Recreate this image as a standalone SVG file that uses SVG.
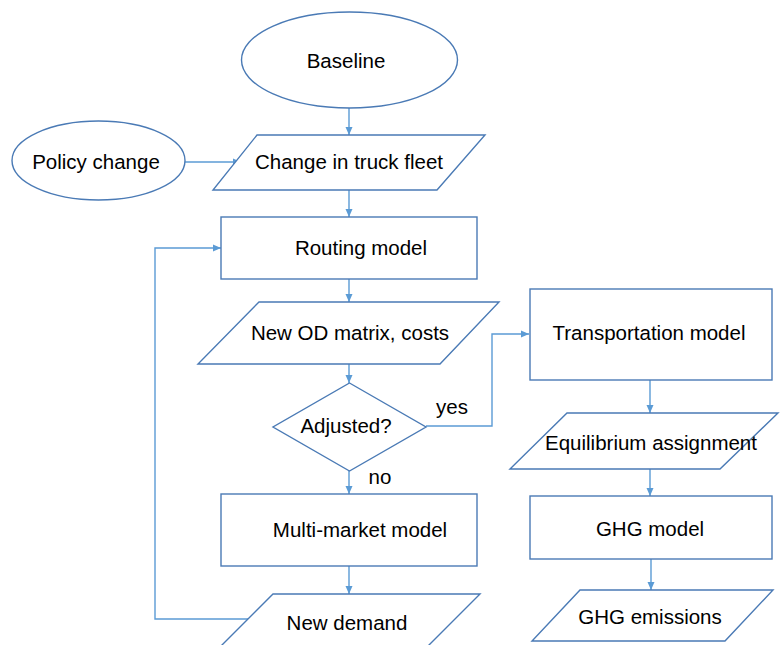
<svg xmlns="http://www.w3.org/2000/svg" width="780" height="645" viewBox="0 0 780 645">
<defs>
<style>
.s{fill:#fff;stroke:#4a7ab5;stroke-width:1.4}
.c{fill:none;stroke:#5b9bd5;stroke-width:1.4}
text{font-family:"Liberation Sans",Arial,sans-serif;font-size:20.5px;fill:#000;text-anchor:middle}
</style>
<marker id="ah" markerWidth="8" markerHeight="8" viewBox="0 0 8 8" refX="8" refY="4" orient="auto" markerUnits="userSpaceOnUse">
<path d="M0,0.5 L8,4 L0,7.5 z" fill="#5b9bd5"/>
</marker>
</defs>
<rect width="780" height="645" fill="#fff"/>
<g id="connectors">
<path class="c" d="M349,108 V135" marker-end="url(#ah)"/>
<path class="c" d="M185,162 H241" marker-end="url(#ah)"/>
<path class="c" d="M349,190 V217" marker-end="url(#ah)"/>
<path class="c" d="M349,279 V302" marker-end="url(#ah)"/>
<path class="c" d="M349,364 V383" marker-end="url(#ah)"/>
<path class="c" d="M426,426 H492 V334 H529" marker-end="url(#ah)"/>
<path class="c" d="M349,471 V494" marker-end="url(#ah)"/>
<path class="c" d="M349,566 V594" marker-end="url(#ah)"/>
<path class="c" d="M248,619 H155 V248 H221" marker-end="url(#ah)"/>
<path class="c" d="M650,380 V413" marker-end="url(#ah)"/>
<path class="c" d="M650,469 V496" marker-end="url(#ah)"/>
<path class="c" d="M651,559 V590" marker-end="url(#ah)"/>
</g>
<g id="baseline">
<ellipse class="s" cx="349.5" cy="60" rx="108" ry="48"/>
<text x="346" y="68">Baseline</text>
</g>
<g id="policy">
<ellipse class="s" cx="98.5" cy="160.5" rx="86.5" ry="39.5"/>
<text x="96" y="169">Policy change</text>
</g>
<g id="fleet">
<polygon class="s" points="257,135 485,135 437,190 213,190"/>
<text x="349" y="169">Change in truck fleet</text>
</g>
<g id="routing">
<rect class="s" x="221" y="217" width="256" height="62"/>
<text x="361" y="255">Routing model</text>
</g>
<g id="odmatrix">
<polygon class="s" points="259,302 499,302 440,364 198,364"/>
<text x="350" y="340">New OD matrix, costs</text>
</g>
<g id="adjusted">
<polygon class="s" points="349.5,383 426,427 349.5,471 273,427"/>
<text x="346" y="433">Adjusted?</text>
</g>
<g id="labels">
<text x="452" y="414">yes</text>
<text x="380" y="484">no</text>
</g>
<g id="multimarket">
<rect class="s" x="221" y="494" width="256" height="72"/>
<text x="360" y="537">Multi-market model</text>
</g>
<g id="newdemand">
<polygon class="s" points="273,594 480,594 418,656 211,656"/>
<text x="347" y="630">New demand</text>
</g>
<g id="transportation">
<rect class="s" x="530" y="289" width="242" height="91"/>
<text x="649" y="340">Transportation model</text>
</g>
<g id="equilibrium">
<polygon class="s" points="567,413 778,413 720,469 510,469"/>
<text x="651" y="450">Equilibrium assignment</text>
</g>
<g id="ghgmodel">
<rect class="s" x="530" y="496" width="242" height="63"/>
<text x="650" y="536">GHG model</text>
</g>
<g id="ghgemissions">
<polygon class="s" points="580,590 773,590 725,641 532,641"/>
<text x="650" y="624">GHG emissions</text>
</g>
</svg>
